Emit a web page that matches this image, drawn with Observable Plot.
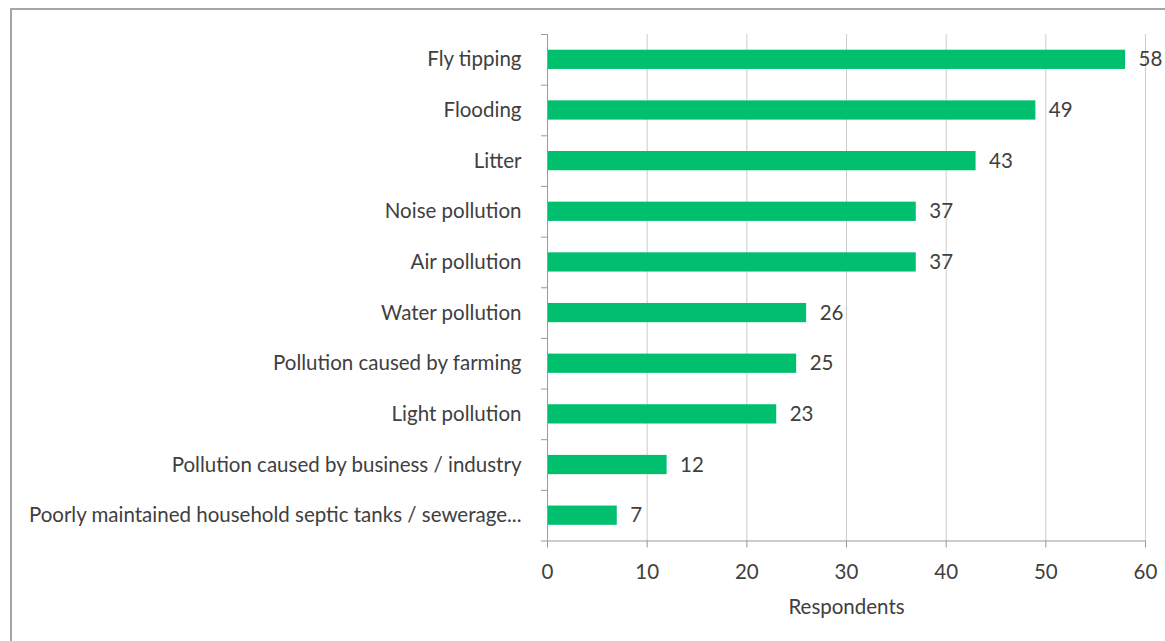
<!DOCTYPE html>
<html>
<head>
<meta charset="utf-8">
<script src="https://cdn.jsdelivr.net/npm/d3@7"></script>
<script src="https://cdn.jsdelivr.net/npm/@observablehq/plot@0.6"></script>
<style>
  html, body { margin: 0; padding: 0; background: #fff; overflow: hidden; }
  #wrap { position: relative; width: 1165px; height: 641px; }
  #border { position: absolute; left: 10px; top: 8px; width: 1200px; height: 700px;
            border-left: 2px solid #a6a6a6; border-top: 2px solid #a6a6a6; box-sizing: border-box; }
  #chart { position: absolute; left: 0; top: 0; }
</style>
</head>
<body>
<div id="wrap"><div id="border"></div><div id="chart"></div></div>
<script>
const categories = [
  "Fly tipping",
  "Flooding",
  "Litter",
  "Noise pollution",
  "Air pollution",
  "Water pollution",
  "Pollution caused by farming",
  "Light pollution",
  "Pollution caused by business / industry",
  "Poorly maintained household septic tanks / sewerage..."
];
const respondents = [58, 49, 43, 37, 37, 26, 25, 23, 12, 7];
const xTicks = [0, 10, 20, 30, 40, 50, 60];
const xLabel = "Respondents";

const data = categories.map((c, i) => ({category: c, value: respondents[i]}));

const W = 1165, H = 641, mt = 34, mb = 100.5, ml = 547, mr = 20;
const step = (H - mt - mb) / categories.length;
const textColor = "#404040";
const axisColor = "#999999";

const chart = Plot.plot({
  width: W,
  height: H,
  marginLeft: ml,
  marginRight: mr,
  marginTop: mt,
  marginBottom: mb,
  style: {fontFamily: "Lato, 'Open Sans', sans-serif", fontSize: "20.5px", color: textColor, background: "transparent"},
  x: {domain: [0, 60]},
  y: {domain: categories, paddingInner: 0.62, paddingOuter: 0.31, round: false},
  marks: [
    Plot.gridX(xTicks.filter(t => t > 0), {stroke: "#cccccc", strokeOpacity: 1}),
    Plot.barX(data, {x: "value", y: "category", fill: "#00bf6f"}),
    Plot.ruleX([0], {stroke: axisColor}),
    Plot.ruleY(categories, {y: d => d, x1: 0, x2: 0, insetLeft: -6, dy: -step / 2, stroke: axisColor}),
    Plot.ruleY(categories.slice(-1), {y: d => d, x1: 0, x2: 60, insetLeft: -6, dy: step / 2, stroke: axisColor}),
    Plot.axisY({tickSize: 0, tickPadding: 26, label: null, fill: textColor}),
    Plot.axisX({ticks: xTicks, tickSize: 7, tickPadding: 16, stroke: axisColor, fill: textColor,
                label: xLabel, labelAnchor: "center", labelArrow: "none", labelOffset: 73}),
    Plot.text(data, {x: "value", y: "category", text: d => String(d.value), textAnchor: "start", dx: 13, fill: textColor})
  ]
});
document.getElementById("chart").appendChild(chart);
</script>
</body>
</html>
